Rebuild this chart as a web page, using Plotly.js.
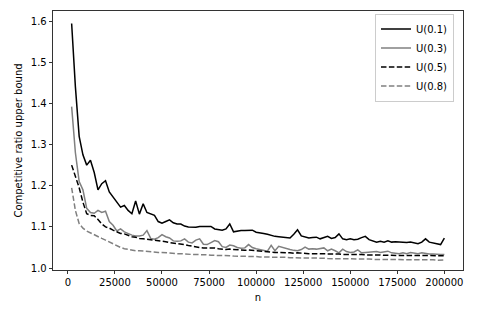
<!DOCTYPE html>
<html>
<head>
<meta charset="utf-8">
<script src="https://cdn.plot.ly/plotly-3.0.1.min.js"></script>
<style>
  html, body { margin: 0; padding: 0; background: #fff; }
  #chart { width: 480px; height: 320px; }
</style>
</head>
<body>
<div id="chart"></div>
<script>
var n = [2000, 4000, 6000, 8000, 10000, 12000, 14000, 16000, 18000, 20000,
  22000, 24000, 26000, 28000, 30000, 32000, 34000, 36000, 38000, 40000,
  42000, 44000, 46000, 48000, 50000, 52000, 54000, 56000, 58000, 60000,
  62000, 64000, 66000, 68000, 70000, 72000, 74000, 76000, 78000, 80000,
  82000, 84000, 86000, 88000, 90000, 92000, 94000, 96000, 98000, 100000,
  102000, 104000, 106000, 108000, 110000, 112000, 114000, 116000, 118000, 120000,
  122000, 124000, 126000, 128000, 130000, 132000, 134000, 136000, 138000, 140000,
  142000, 144000, 146000, 148000, 150000, 152000, 154000, 156000, 158000, 160000,
  162000, 164000, 166000, 168000, 170000, 172000, 174000, 176000, 178000, 180000,
  182000, 184000, 186000, 188000, 190000, 192000, 194000, 196000, 198000, 200000];

var u01 = [1.594, 1.44, 1.32, 1.275, 1.25, 1.262, 1.232, 1.19, 1.205, 1.212,
  1.185, 1.172, 1.162, 1.148, 1.152, 1.14, 1.132, 1.163, 1.131, 1.156,
  1.135, 1.131, 1.128, 1.113, 1.109, 1.113, 1.117, 1.11, 1.107, 1.107,
  1.102, 1.1, 1.099, 1.099, 1.101, 1.101, 1.1, 1.101, 1.095, 1.094,
  1.092, 1.095, 1.107, 1.088, 1.09, 1.091, 1.091, 1.091, 1.092, 1.087,
  1.086, 1.084, 1.082, 1.079, 1.077, 1.076, 1.075, 1.074, 1.073, 1.082,
  1.093, 1.078, 1.075, 1.073, 1.074, 1.075, 1.071, 1.074, 1.077, 1.072,
  1.074, 1.083, 1.071, 1.069, 1.071, 1.069, 1.07, 1.074, 1.077, 1.069,
  1.066, 1.063, 1.065, 1.063, 1.066, 1.063, 1.064, 1.063, 1.063, 1.062,
  1.063, 1.061, 1.059, 1.063, 1.071, 1.063, 1.061, 1.058, 1.057, 1.073];

var u03 = [1.392, 1.28, 1.21, 1.19, 1.145, 1.135, 1.133, 1.14, 1.135, 1.138,
  1.113, 1.104, 1.09, 1.095, 1.088, 1.083, 1.08, 1.078, 1.078, 1.08,
  1.091, 1.072, 1.07, 1.074, 1.081, 1.076, 1.073, 1.066, 1.065, 1.066,
  1.071, 1.063, 1.061, 1.068, 1.071, 1.058, 1.057, 1.062, 1.067, 1.064,
  1.052, 1.05, 1.056, 1.054, 1.05, 1.048, 1.049, 1.057, 1.05, 1.047,
  1.045, 1.043, 1.041, 1.055, 1.042, 1.053, 1.05, 1.048, 1.045, 1.043,
  1.042, 1.045, 1.051, 1.046, 1.047, 1.046, 1.047, 1.049, 1.042, 1.046,
  1.042, 1.037, 1.046, 1.04, 1.038, 1.039, 1.044, 1.037, 1.038, 1.039,
  1.04, 1.04, 1.038, 1.04, 1.041, 1.037, 1.036, 1.035, 1.037, 1.035,
  1.038, 1.036, 1.035, 1.037, 1.035, 1.034, 1.034, 1.033, 1.033, 1.033];

var u05 = [1.25, 1.225, 1.195, 1.16, 1.132, 1.128, 1.127, 1.118, 1.107, 1.1,
  1.097, 1.092, 1.088, 1.084, 1.083, 1.079, 1.076, 1.075, 1.072, 1.071,
  1.07, 1.069, 1.068, 1.067, 1.066, 1.064, 1.062, 1.061, 1.06, 1.059,
  1.057, 1.055, 1.053, 1.052, 1.05, 1.049, 1.049, 1.048, 1.049, 1.047,
  1.046, 1.045, 1.046, 1.045, 1.044, 1.044, 1.043, 1.044, 1.043, 1.042,
  1.041, 1.04, 1.039, 1.039, 1.038, 1.038, 1.037, 1.037, 1.037, 1.036,
  1.037, 1.036, 1.036, 1.035, 1.035, 1.035, 1.034, 1.035, 1.034, 1.034,
  1.034, 1.034, 1.033, 1.033, 1.033, 1.033, 1.034, 1.033, 1.032, 1.032,
  1.033, 1.032, 1.032, 1.031, 1.031, 1.031, 1.031, 1.031, 1.031, 1.03,
  1.031, 1.03, 1.03, 1.031, 1.03, 1.03, 1.03, 1.03, 1.03, 1.03];

var u08 = [1.195, 1.14, 1.108, 1.097, 1.09, 1.085, 1.08, 1.076, 1.072, 1.068,
  1.063, 1.058, 1.054, 1.05, 1.047, 1.045, 1.043, 1.042, 1.042, 1.041,
  1.041, 1.04, 1.039, 1.038, 1.038, 1.037, 1.036, 1.036, 1.035, 1.035,
  1.034, 1.033, 1.033, 1.033, 1.033, 1.032, 1.032, 1.031, 1.031, 1.031,
  1.03, 1.03, 1.03, 1.029, 1.029, 1.029, 1.029, 1.028, 1.028, 1.028,
  1.027, 1.027, 1.027, 1.027, 1.026, 1.026, 1.026, 1.026, 1.025, 1.025,
  1.025, 1.025, 1.025, 1.024, 1.024, 1.024, 1.024, 1.024, 1.023, 1.023,
  1.023, 1.023, 1.023, 1.023, 1.022, 1.022, 1.022, 1.022, 1.022, 1.022,
  1.021, 1.021, 1.021, 1.021, 1.021, 1.021, 1.021, 1.021, 1.021, 1.02,
  1.021, 1.02, 1.02, 1.02, 1.02, 1.02, 1.02, 1.019, 1.02, 1.02];

var names = ["U(0.1)", "U(0.3)", "U(0.5)", "U(0.8)"];
var xTicks = [0, 25000, 50000, 75000, 100000, 125000, 150000, 175000, 200000];
var yTicks = [1.0, 1.1, 1.2, 1.3, 1.4, 1.5, 1.6];

var black = "#000000", grey = "#808080";
var dashed = "5.5px,2.4px";

var data = [
  {x: n, y: u01, name: names[0], mode: "lines", line: {color: black, width: 1.5}},
  {x: n, y: u03, name: names[1], mode: "lines", line: {color: grey, width: 1.5}},
  {x: n, y: u05, name: names[2], mode: "lines", line: {color: black, width: 1.5, dash: dashed}},
  {x: n, y: u08, name: names[3], mode: "lines", line: {color: grey, width: 1.5, dash: dashed}}
];

var axisCommon = {
  showline: true, mirror: true, linecolor: "#000", linewidth: 0.8,
  ticks: "outside", ticklen: 3.5, tickwidth: 0.8, tickcolor: "#000",
  showgrid: false, zeroline: false,
  tickfont: {family: "DejaVu Sans", size: 10, color: "#000"}
};

var layout = {
  width: 480, height: 320,
  margin: {l: 53, r: 17, t: 11, b: 50},
  paper_bgcolor: "#fff", plot_bgcolor: "#fff",
  font: {family: "DejaVu Sans", size: 10, color: "#000"},
  showlegend: true,
  legend: {
    x: 0.978, y: 0.99, xanchor: "right", yanchor: "top",
    bgcolor: "rgba(255,255,255,0.8)", bordercolor: "#cccccc", borderwidth: 1,
    font: {family: "DejaVu Sans", size: 10, color: "#000"},
    tracegroupgap: 0, itemwidth: 30
  },
  xaxis: Object.assign({}, axisCommon, {
    range: [-7900, 209900],
    tickvals: xTicks, ticktext: xTicks.map(String),
    title: {text: "n", font: {family: "DejaVu Sans", size: 10}, standoff: 6}
  }),
  yaxis: Object.assign({}, axisCommon, {
    range: [0.9953, 1.6243],
    tickvals: yTicks, ticktext: yTicks.map(function (v) { return v.toFixed(1); }),
    title: {text: "Competitive ratio upper bound", font: {family: "DejaVu Sans", size: 10}, standoff: 6}
  })
};

Plotly.newPlot("chart", data, layout, {displayModeBar: false, staticPlot: true});
</script>
</body>
</html>
